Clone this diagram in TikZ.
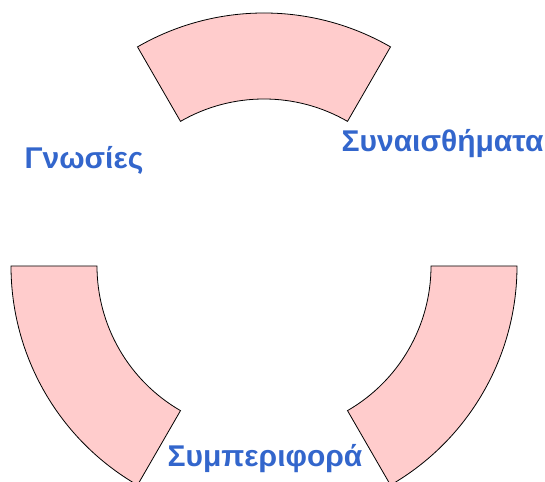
\documentclass[tikz,border=0pt]{standalone}
\usepackage{fontspec}
\setmainfont{Liberation Sans}
\usetikzlibrary{calc}
\definecolor{partpink}{RGB}{255,204,204}
\definecolor{lblblue}{RGB}{51,102,204}
\tikzset{
  part/.style={fill=partpink, draw=black, line width=0.8pt, line join=miter},
  lbl/.style={text=lblblue, font=\bfseries\fontsize{30}{36}\selectfont, anchor=base, inner sep=0pt}
}
% ring piece between start and end angle
\def\ringpart(#1:#2){\draw[part] ($(ctr)+(#1:253)$) arc (#1:#2:253) -- ($(ctr)+(#2:167)$) arc (#2:#1:167) -- cycle;}

\begin{document}
\begin{tikzpicture}[x=1pt, y=1pt]
	\useasboundingbox (0, 0) rectangle (545, 481);
	\coordinate (ctr) at (264, 215);
	
	\ringpart(60:120)
	\ringpart(180:240)
	\ringpart(300:360)
	
	\node[lbl] (gnosies) at (84, 312.7) {Γνωσίες};
	\node[lbl] (synais) at (442.5, 329.3) {Συναισθήματα};
	\node[lbl] (symper) at (265, 14.3) {Συμπεριφορά};
\end{tikzpicture}
\end{document}
